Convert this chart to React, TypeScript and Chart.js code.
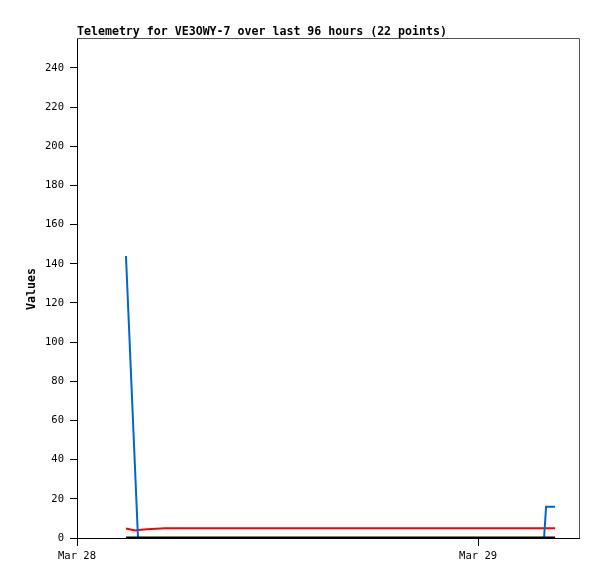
import React, { useEffect, useRef } from "react";
import { Chart, registerables } from "chart.js";

Chart.register(...registerables);

const titleText = "Telemetry for VE3OWY-7 over last 96 hours (22 points)";
const yAxisTitle = "Values";

// x values are hours since Mar 28 00:00
const xTickHours = [0, 24];
const xTickLabels = ["Mar 28", "Mar 29"];
const yTicks = [0, 20, 40, 60, 80, 100, 120, 140, 160, 180, 200, 220, 240];

const blackHours = [2.93, 28.61];
const blackValues = [0, 0];

const blueHours = [2.93, 3.65, 27.95, 28.07, 28.61];
const blueValues = [144, 0, 0, 16, 16];

const redHours = [2.93, 3.2, 3.5, 3.85, 4.2, 5.27, 28.61];
const redValues = [4.8, 4.3, 3.8, 4.2, 4.5, 5.0, 5.0];

const FONT = "'DejaVu Sans Mono', monospace";

const toPoints = (xs: number[], ys: number[]) => xs.map((x, i) => ({ x, y: ys[i] }));

const decorPlugin = {
  id: "decor",
  afterDraw(chart: any) {
    const { ctx, chartArea } = chart;
    ctx.save();
    ctx.strokeStyle = "#555555";
    ctx.lineWidth = 1;
    ctx.beginPath();
    ctx.moveTo(chartArea.left, chartArea.top + 0.5);
    ctx.lineTo(chartArea.right + 0.5, chartArea.top + 0.5);
    ctx.lineTo(chartArea.right + 0.5, chartArea.bottom);
    ctx.stroke();

    ctx.fillStyle = "#000";
    ctx.font = "bold 11.6px " + FONT;
    ctx.textAlign = "left";
    ctx.textBaseline = "alphabetic";
    ctx.fillText(titleText, chartArea.left, 35);

    ctx.translate(32, 289);
    ctx.rotate(-Math.PI / 2);
    ctx.textAlign = "center";
    ctx.textBaseline = "middle";
    ctx.font = "bold 11.6px " + FONT;
    ctx.fillText(yAxisTitle, 0, 0);
    ctx.restore();
  },
};

export default function App() {
  const ref = useRef<HTMLCanvasElement>(null);
  useEffect(() => {
    document.body.style.margin = "0";
    const chart = new Chart(ref.current!, {
      type: "line",
      data: {
        datasets: [
          {
            data: toPoints(blackHours, blackValues),
            borderColor: "#000000",
            borderWidth: 3,
            pointRadius: 0,
            tension: 0,
          },
          {
            data: toPoints(blueHours, blueValues),
            borderColor: "#0066CC",
            borderWidth: 2,
            pointRadius: 0,
            tension: 0,
          },
          {
            data: toPoints(redHours, redValues),
            borderColor: "#FF0000",
            borderWidth: 2,
            pointRadius: 0,
            tension: 0,
          },
        ],
      },
      options: {
        animation: false,
        responsive: false,
        devicePixelRatio: 1,
        layout: { padding: { top: 38, right: 18, left: 0, bottom: 0 } },
        plugins: { legend: { display: false }, tooltip: { enabled: false }, title: { display: false } },
        scales: {
          x: {
            type: "linear",
            min: 0,
            max: 30.04,
            afterBuildTicks: (scale: any) => {
              scale.ticks = xTickHours.map((v) => ({ value: v }));
            },
            afterFit: (scale: any) => {
              scale.height = 41;
            },
            ticks: {
              autoSkip: false,
              maxRotation: 0,
              color: "#000",
              font: { family: FONT, size: 10.5 },
              padding: 4,
              callback: (v: any) => {
                const i = xTickHours.indexOf(Number(v));
                return i >= 0 ? xTickLabels[i] : "";
              },
            },
            grid: {
              drawOnChartArea: false,
              drawTicks: true,
              tickLength: 8,
              color: "#000",
            },
            border: { display: true, color: "#000", width: 1 },
          },
          y: {
            min: 0,
            max: 255.3,
            afterBuildTicks: (scale: any) => {
              scale.ticks = yTicks.map((v) => ({ value: v }));
            },
            afterFit: (scale: any) => {
              scale.width = 77;
            },
            ticks: {
              autoSkip: false,
              color: "#000",
              font: { family: FONT, size: 10.5 },
              padding: 6,
            },
            grid: {
              drawOnChartArea: false,
              drawTicks: true,
              tickLength: 7,
              color: "#000",
            },
            border: { display: true, color: "#000", width: 1 },
          },
        },
      },
      plugins: [decorPlugin],
    } as any);
    return () => chart.destroy();
  }, []);
  return (
    <div style={{ width: 597, height: 579, background: "#fff" }}>
      <canvas ref={ref} width={597} height={579} style={{ display: "block" }} />
    </div>
  );
}
